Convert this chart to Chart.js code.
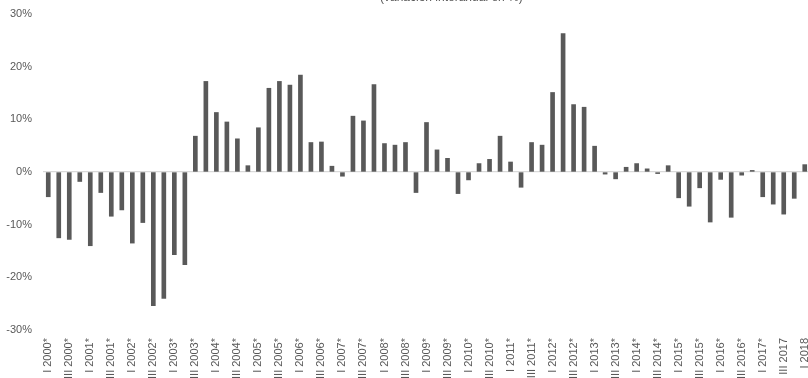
<!DOCTYPE html>
<html>
<head>
<meta charset="utf-8">
<script src="https://cdn.jsdelivr.net/npm/chart.js@4"></script>
<style>
  html, body { margin: 0; padding: 0; background: #fff; overflow: hidden; width: 808px; height: 378px; }
  #wrap { position: relative; width: 810px; height: 400px; }
  #subtitle { position: absolute; top: -10px; left: 380px; font: 12px "Liberation Sans", Arial, sans-serif; color: #595959; white-space: nowrap; }
</style>
</head>
<body>
<div id="wrap">
  <canvas id="chart" width="810" height="400"></canvas>
  <div id="subtitle">(variación interanual en %)</div>
</div>
<script>
// Trimestres (I..IV) desde 2000 hasta I 2018
const quarters = [
  'I 2000*', 'II 2000*', 'III 2000*', 'IV 2000*',
  'I 2001*', 'II 2001*', 'III 2001*', 'IV 2001*',
  'I 2002*', 'II 2002*', 'III 2002*', 'IV 2002*',
  'I 2003*', 'II 2003*', 'III 2003*', 'IV 2003*',
  'I 2004*', 'II 2004*', 'III 2004*', 'IV 2004*',
  'I 2005*', 'II 2005*', 'III 2005*', 'IV 2005*',
  'I 2006*', 'II 2006*', 'III 2006*', 'IV 2006*',
  'I 2007*', 'II 2007*', 'III 2007*', 'IV 2007*',
  'I 2008*', 'II 2008*', 'III 2008*', 'IV 2008*',
  'I 2009*', 'II 2009*', 'III 2009*', 'IV 2009*',
  'I 2010*', 'II 2010*', 'III 2010*', 'IV 2010*',
  'I 2011*', 'II 2011*', 'III 2011*', 'IV 2011*',
  'I 2012*', 'II 2012*', 'III 2012*', 'IV 2012*',
  'I 2013*', 'II 2013*', 'III 2013*', 'IV 2013*',
  'I 2014*', 'II 2014*', 'III 2014*', 'IV 2014*',
  'I 2015*', 'II 2015*', 'III 2015*', 'IV 2015*',
  'I 2016*', 'II 2016*', 'III 2016*', 'IV 2016*',
  'I 2017*', 'II 2017*', 'III 2017', 'IV 2017',
  'I 2018'
];

// Variación interanual en %
const variacion = [
  -4.7, -12.5, -12.8, -1.8,
  -14.0, -3.9, -8.4, -7.2,
  -13.5, -9.6, -25.4, -24.0,
  -15.7, -17.6, 6.8, 17.2,
  11.3, 9.5, 6.3, 1.2,
  8.4, 15.9, 17.2, 16.5,
  18.4, 5.6, 5.7, 1.1,
  -0.8, 10.6, 9.7, 16.6,
  5.4, 5.1, 5.6, -3.9,
  9.4, 4.2, 2.6, -4.1,
  -1.5, 1.6, 2.4, 6.8,
  1.9, -2.9, 5.6, 5.1,
  15.1, 26.3, 12.8, 12.3,
  4.9, -0.4, -1.3, 0.9,
  1.6, 0.6, -0.3, 1.2,
  -4.9, -6.5, -3.0, -9.5,
  -1.4, -8.6, -0.6, 0.3,
  -4.7, -6.1, -8.0, -5.0,
  1.4
];

const yTicks = [-30, -20, -10, 0, 10, 20, 30];

const textColor = '#595959';
const barColor = '#595959';
const zeroLineColor = '#d9d9d9';

new Chart(document.getElementById('chart'), {
  type: 'bar',
  data: {
    labels: quarters,
    datasets: [{
      label: 'Variación interanual',
      data: variacion,
      backgroundColor: barColor,
      barThickness: 4,
    }]
  },
  options: {
    responsive: false,
    animation: false,
    layout: {
      padding: { top: 14, left: 0, right: 0, bottom: 0 }
    },
    plugins: {
      legend: { display: false },
      title: { display: false },
      tooltip: { enabled: false }
    },
    scales: {
      x: {
        grid: { display: false, drawTicks: false },
        border: { display: false },
        afterFit: function(scale) {
          scale.height = 70;
          scale.paddingLeft = 0;
          scale.paddingRight = 0;
        },
        ticks: {
          autoSkip: false,
          minRotation: 90,
          maxRotation: 90,
          padding: 8,
          color: textColor,
          font: { family: 'Liberation Sans', size: 11 },
          callback: function(value, index) {
            return index % 2 === 0 ? this.getLabelForValue(value) : '';
          }
        }
      },
      y: {
        min: -30,
        max: 30,
        afterFit: function(scale) {
          scale.width = 43;
          scale.paddingTop = 0;
          scale.paddingBottom = 0;
        },
        afterBuildTicks: function(scale) {
          scale.ticks = yTicks.map(v => ({ value: v }));
        },
        border: { display: false },
        grid: {
          drawTicks: false,
          color: function(ctx) { return ctx.tick && ctx.tick.value === 0 ? zeroLineColor : 'rgba(0,0,0,0)'; },
          lineWidth: 1.3
        },
        ticks: {
          padding: 11,
          color: textColor,
          font: { family: 'Liberation Sans', size: 11 },
          callback: function(value) { return value + '%'; }
        }
      }
    }
  }
});
</script>
</body>
</html>
